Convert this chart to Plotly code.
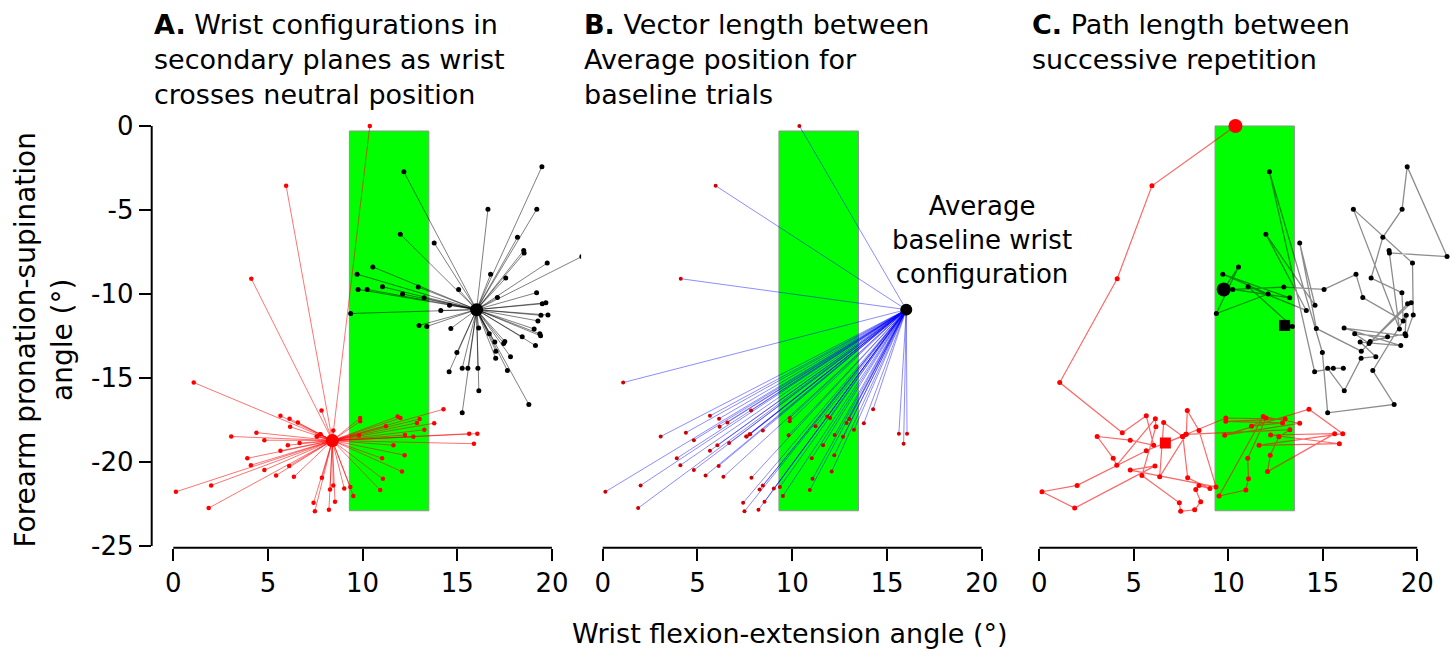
import plotly.graph_objects as go

# ---------------- data ----------------
tick_x = [0, 5, 10, 15, 20]
tick_y = [0, -5, -10, -15, -20, -25]

# red trials (in order of repetition)
red_x = [10.38, 5.96, 4.12, 1.08, 4.39, 5.66, 6.05, 4.81, 3.06, 3.91, 4.10, 6.14, 6.17, 5.43, 7.41,
         7.48, 8.22, 8.54, 8.28, 8.45, 9.03, 7.85, 7.60, 6.58, 6.37, 7.78, 7.83, 8.45, 9.35, 4.81,
         6.12, 1.87, 0.14, 2.00, 5.66, 9.87, 13.01, 9.87, 12.87, 11.23, 12.00, 11.03, 11.07, 10.93,
         9.51, 11.85, 13.78, 9.81, 14.27, 16.06, 11.63, 15.88, 12.24, 15.63, 12.08, 12.22, 12.68,
         13.26, 7.75, 7.57, 6.67]
red_y = [0.0, -3.56, -9.09, -15.27, -18.25, -17.25, -19.0, -18.7, -18.48, -19.78, -20.19, -17.42,
         -17.9, -20.8, -22.43, -22.93, -22.84, -22.37, -21.64, -21.4, -21.58, -20.94, -18.48, -17.65,
         -20.88, -18.35, -16.94, -18.12, -21.48, -20.48, -20.23, -22.74, -21.77, -21.39, -19.33,
         -17.38, -17.44, -17.58, -17.67, -17.87, -17.38, -19.78, -21.0, -21.67, -22.02, -17.29,
         -17.69, -18.4, -16.86, -18.31, -19.0, -18.91, -18.39, -18.31, -20.57, -19.59, -18.5,
         -18.08, -18.35, -18.48, -18.87]

# black (baseline) trials (in order of repetition)
black_x = [9.76, 10.54, 9.37, 12.11, 9.71, 13.25, 10.24, 12.94, 15.07, 16.76, 17.12, 19.26, 19.19,
           17.56, 18.18, 19.20, 19.47, 21.58, 18.53, 18.51, 19.06, 16.62, 19.75, 19.79, 19.40,
           16.13, 19.13, 16.98, 17.81, 17.03, 16.14, 15.26, 16.09, 15.56, 14.57, 12.18, 14.98,
           15.26, 18.78, 17.65, 19.42, 19.36, 17.51, 18.43, 16.69, 17.45, 19.49, 19.68, 17.04,
           14.66, 13.78, 14.59, 11.99, 14.13, 11.05, 13.39, 12.98]
black_y = [-9.73, -8.39, -11.16, -10.0, -8.82, -10.23, -9.73, -9.59, -9.73, -8.83, -10.21, -11.6,
           -9.92, -9.05, -6.63, -4.95, -2.42, -7.77, -7.56, -7.41, -12.08, -4.95, -8.16, -11.25,
           -12.49, -12.03, -13.07, -12.86, -13.73, -13.82, -15.76, -14.42, -14.42, -14.42, -14.62,
           -2.73, -13.48, -17.07, -16.57, -14.56, -11.27, -12.37, -12.82, -12.55, -12.37, -12.94,
           -10.58, -10.52, -13.4, -12.05, -6.96, -10.67, -6.44, -10.98, -9.57, -11.93, -11.87]

red_center = (8.40, -18.72)
black_center = (16.02, -10.93)

# neutral zone (green band)
zone_x = [9.3, 13.5]
zone_y = [-22.9, -0.3]

titles = ["<b>A.</b> Wrist configurations in<br>secondary planes as wrist<br>crosses neutral position",
          "<b>B.</b> Vector length between<br>Average position for<br>baseline trials",
          "<b>C.</b> Path length between<br>successive repetition"]

FONT = "DejaVu Sans"
W, H = 1455, 658


def spokes(xs, ys, c):
    sx, sy = [], []
    for x, y in zip(xs, ys):
        sx += [c[0], x, None]
        sy += [c[1], y, None]
    return sx, sy


fig = go.Figure()

# ---------- Panel A ----------
sx, sy = spokes(red_x, red_y, red_center)
fig.add_trace(go.Scatter(x=sx, y=sy, mode="lines", line=dict(color="rgba(255,0,0,0.55)", width=1),
                         xaxis="x", yaxis="y"))
sx, sy = spokes(black_x, black_y, black_center)
fig.add_trace(go.Scatter(x=sx, y=sy, mode="lines", line=dict(color="rgba(0,0,0,0.5)", width=1),
                         xaxis="x", yaxis="y"))
fig.add_trace(go.Scatter(x=red_x, y=red_y, mode="markers", marker=dict(color="red", size=4.5),
                         xaxis="x", yaxis="y"))
fig.add_trace(go.Scatter(x=black_x, y=black_y, mode="markers", marker=dict(color="black", size=5),
                         xaxis="x", yaxis="y"))
fig.add_trace(go.Scatter(x=[red_center[0]], y=[red_center[1]], mode="markers",
                         marker=dict(color="red", size=13), xaxis="x", yaxis="y"))
fig.add_trace(go.Scatter(x=[black_center[0]], y=[black_center[1]], mode="markers",
                         marker=dict(color="black", size=13), xaxis="x", yaxis="y"))

# ---------- Panel B ----------
sx, sy = spokes(red_x, red_y, black_center)
fig.add_trace(go.Scatter(x=sx, y=sy, mode="lines", line=dict(color="rgba(0,0,255,0.45)", width=1),
                         xaxis="x2", yaxis="y2"))
fig.add_trace(go.Scatter(x=red_x, y=red_y, mode="markers", marker=dict(color="#d00000", size=4),
                         xaxis="x2", yaxis="y2"))
fig.add_trace(go.Scatter(x=[black_center[0]], y=[black_center[1]], mode="markers",
                         marker=dict(color="black", size=12), xaxis="x2", yaxis="y2"))

# ---------- Panel C ----------
fig.add_trace(go.Scatter(x=red_x, y=red_y, mode="lines+markers",
                         line=dict(color="rgba(255,0,0,0.6)", width=1.2),
                         marker=dict(color="red", size=5), xaxis="x3", yaxis="y3"))
fig.add_trace(go.Scatter(x=black_x, y=black_y, mode="lines+markers",
                         line=dict(color="rgba(0,0,0,0.45)", width=1.3),
                         marker=dict(color="black", size=5), xaxis="x3", yaxis="y3"))
fig.add_trace(go.Scatter(x=[red_x[0]], y=[red_y[0]], mode="markers",
                         marker=dict(color="red", size=14), xaxis="x3", yaxis="y3"))
fig.add_trace(go.Scatter(x=[red_x[-1]], y=[red_y[-1]], mode="markers",
                         marker=dict(color="red", size=11, symbol="square"), xaxis="x3", yaxis="y3"))
fig.add_trace(go.Scatter(x=[black_x[0]], y=[black_y[0]], mode="markers",
                         marker=dict(color="black", size=14), xaxis="x3", yaxis="y3"))
fig.add_trace(go.Scatter(x=[black_x[-1]], y=[black_y[-1]], mode="markers",
                         marker=dict(color="black", size=11, symbol="square"), xaxis="x3", yaxis="y3"))

# ---------- layout ----------
xr = [-1.14, 22.0]
yr = [-25.1, 0.6]
ydom = [1 - 558 / H, 1 - 114 / H]
xdoms = [[151.7 / W, 589.8 / W], [581.1 / W, 1019.6 / W], [1017.8 / W, 1.0]]

tickfont = dict(family=FONT, size=26, color="black")
xcommon = dict(range=xr, showgrid=False, zeroline=False, showline=False, ticks="outside",
               ticklen=12, tickwidth=2, tickcolor="black", tickvals=tick_x,
               ticktext=[str(v) for v in tick_x], tickfont=tickfont, fixedrange=True)
ycommon = dict(range=yr, showgrid=False, zeroline=False, showline=False, domain=ydom,
               fixedrange=True)

fig.update_layout(
    width=W, height=H,
    margin=dict(l=0, r=0, t=0, b=0),
    paper_bgcolor="white", plot_bgcolor="white",
    showlegend=False, hovermode=False,
    xaxis=dict(domain=xdoms[0], anchor="y", **xcommon),
    xaxis2=dict(domain=xdoms[1], anchor="y2", **xcommon),
    xaxis3=dict(domain=xdoms[2], anchor="y3", **xcommon),
    yaxis=dict(anchor="x", ticks="outside", ticklen=12, tickwidth=2, tickcolor="black",
               tickvals=tick_y, ticktext=[str(v) for v in tick_y], tickfont=tickfont, **ycommon),
    yaxis2=dict(anchor="x2", visible=False, **ycommon),
    yaxis3=dict(anchor="x3", visible=False, **ycommon),
)

shapes = []
for xa, ya in [("x", "y"), ("x2", "y2"), ("x3", "y3")]:
    shapes.append(dict(type="rect", xref=xa, yref=ya, x0=zone_x[0], x1=zone_x[1],
                       y0=zone_y[0], y1=zone_y[1] if xa != "x3" else 0.0,
                       fillcolor="#00ff00", line=dict(color="rgb(140,150,140)", width=1),
                       layer="below"))
    shapes.append(dict(type="line", xref=xa, yref=ya + " domain", x0=tick_x[0], x1=tick_x[-1],
                       y0=0, y1=0, line=dict(color="black", width=2)))
shapes.append(dict(type="line", xref="x domain", yref="y", x0=0, x1=0, y0=tick_y[-1], y1=tick_y[0],
                   line=dict(color="black", width=2)))
fig.update_layout(shapes=shapes)

annos = []
title_x = [152, 582, 1030]
for t, px in zip(titles, title_x):
    annos.append(dict(text=t, xref="paper", yref="paper", x=px / W, y=1 - 2 / H,
                      xanchor="left", yanchor="top", align="left", showarrow=False,
                      font=dict(family=FONT, size=27, color="black")))
annos.append(dict(text="Average<br>baseline wrist<br>configuration", xref="paper", yref="paper",
                  x=982 / W, y=1 - 189 / H, xanchor="center", yanchor="top", align="center",
                  showarrow=False, font=dict(family=FONT, size=26, color="black")))
annos.append(dict(text="Wrist flexion-extension angle (°)", xref="paper", yref="paper",
                  x=790 / W, y=1 - 646 / H, xanchor="center", yanchor="middle", showarrow=False,
                  font=dict(family=FONT, size=27, color="black")))
annos.append(dict(text="Forearm pronation-supination<br>angle (°)", xref="paper", yref="paper",
                  x=44 / W, y=1 - 344 / H, xanchor="center", yanchor="middle", showarrow=False,
                  textangle=-90, align="center",
                  font=dict(family=FONT, size=28, color="black")))
fig.update_layout(annotations=annos)

fig.write_html("out.html", config={"displayModeBar": False, "staticPlot": True},
               post_script="document.body.style.margin='0px';document.body.style.overflow='hidden';")
